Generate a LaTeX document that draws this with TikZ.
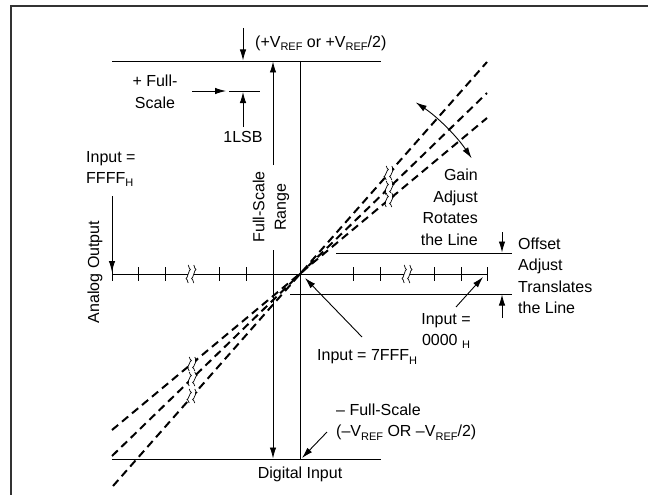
\documentclass[tikz,border=0pt]{standalone}
\usepackage{fontspec}
\setmainfont{Liberation Sans}
\usetikzlibrary{arrows.meta}
\newcommand{\subtx}[1]{\raisebox{-0.4ex}{\fontsize{11}{11}\selectfont #1}}
\begin{document}
\begin{tikzpicture}[x=1pt,y=-1pt,
  thinln/.style={line width=0.9pt},
  arr/.style={thinln,-{Latex[length=11pt,width=6.5pt]}},
  dbl/.style={thinln,{Latex[length=11pt,width=6.5pt]}-{Latex[length=11pt,width=6.5pt]}},
  dline/.style={line width=2pt,dash pattern=on 8pt off 5pt},
  lbl/.style={font=\fontsize{16}{21.5}\selectfont,inner sep=0pt},
  brkline/.pic={
    \fill[white] (-2.8,-7) rectangle (2.8,7);
    \draw[line width=0.7pt] (-2.8,-7) sin (-0.6,-3.5) cos (-2.8,0) sin (-5,3.5) cos (-2.8,7);
    \draw[line width=0.7pt] (2.8,-7) sin (5,-3.5) cos (2.8,0) sin (0.6,3.5) cos (2.8,7);
  },
  brkaxis/.pic={
    \fill[white] (-2.8,-9) rectangle (2.8,9);
    \draw[line width=0.7pt] (-2.8,-9) sin (-0.6,-4.5) cos (-2.8,0) sin (-5,4.5) cos (-2.8,9);
    \draw[line width=0.7pt] (2.8,-9) sin (5,-4.5) cos (2.8,0) sin (0.6,4.5) cos (2.8,9);
  }
]
\useasboundingbox (0,0) rectangle (648,495);
% frame
\coordinate (FB) at (11,496);
\coordinate (FC) at (11,6);
\coordinate (FR) at (649,6);
\draw[line width=2.5pt, draw=black!80] (FB) -- (FC) -- (FR);

% grid lines
\coordinate (O) at (300,274);
\coordinate (TL) at (112,61); \coordinate (TR) at (381,61);
\coordinate (BL) at (112,459); \coordinate (BR) at (381,459);
\coordinate (VT) at (300,61); \coordinate (VB) at (300,459);
\coordinate (HL) at (112,274); \coordinate (HR) at (487,274);
\draw[thinln] (TL) -- (TR);
\draw[thinln] (BL) -- (BR);
\draw[thinln] (VT) -- (VB);
\draw[thinln] (HL) -- (HR);
\foreach \x in {112,138,165,219,246,353,380,434,461,487}
  \draw[thinln] (\x,267) -- (\x,281);
\pic at (191,274) {brkaxis};
\pic at (407,274) {brkaxis};

% offset lines
\coordinate (OU1) at (336,253); \coordinate (OU2) at (512,253);
\coordinate (OL1) at (290,294); \coordinate (OL2) at (512,294);
\draw[thinln] (OU1) -- (OU2);
\draw[thinln] (OL1) -- (OL2);
\coordinate (OA1) at (502,232); \coordinate (OA2) at (502,252.5);
\coordinate (OB1) at (502,318); \coordinate (OB2) at (502,294.5);
\draw[arr] (OA1) -- (OA2);
\draw[arr] (OB1) -- (OB2);
\node[lbl, anchor=west, align=left] (offset) at (518,276) {Offset\\Adjust\\Translates\\the Line};

% full-scale range
\node[lbl, rotate=90, align=center] (fsr) at (271,207) {Full-Scale\\Range};
\coordinate (FS1) at (273,165); \coordinate (FSt) at (273,61.5);
\coordinate (FS2) at (273,250); \coordinate (FSb) at (273,458.5);
\draw[arr] (FS1) -- (FSt);
\draw[arr] (FS2) -- (FSb);

% top label
\coordinate (VA1) at (243,28); \coordinate (VA2) at (243,60.5);
\draw[arr] (VA1) -- (VA2);
\node[lbl, anchor=west] (vref) at (255,43) {(+V\subtx{REF} or +V\subtx{REF}/2)};

% + full-scale, 1LSB
\node[lbl, align=center] (pfs) at (155,92) {+ Full-\\Scale};
\coordinate (PA1) at (192,91); \coordinate (PA2) at (226,91);
\draw[arr] (PA1) -- (PA2);
\coordinate (LS1) at (229,91); \coordinate (LS2) at (260,91);
\draw[thinln] (LS1) -- (LS2);
\node[lbl] (lsb) at (243,137) {1LSB};
\coordinate (LA1) at (243,127); \coordinate (LA2) at (243,92);
\draw[arr] (LA1) -- (LA2);

% input FFFF
\node[lbl, anchor=west, align=left] (iff) at (86,169) {Input =\\FFFF\subtx{H}};
\coordinate (IA1) at (112,196); \coordinate (IA2) at (112,272);
\draw[arr] (IA1) -- (IA2);
\node[lbl, rotate=90] (ao) at (95,272) {Analog Output};

% dashed transfer lines
\coordinate (D1a) at (113,486); \coordinate (D1b) at (487,62);
\coordinate (D2a) at (112,456); \coordinate (D2b) at (487,93);
\coordinate (D3a) at (112,430); \coordinate (D3b) at (487,118);
\draw[dline] (D1a) -- (D1b);
\draw[dline] (D2a) -- (D2b);
\draw[dline] (D3a) -- (D3b);
\foreach \y in {173,188,200} \pic at (389,\y) {brkline};
\foreach \y in {364,379,396} \pic at (192,\y) {brkline};

% gain adjust
\coordinate (GA) at (415.8,102.4); \coordinate (GB) at (471.6,158.2);
\draw[dbl] (GA) .. controls (437.85,117.27) and (456.73,136.15) .. (GB);
\node[lbl, anchor=east, align=right] (gain) at (478,207.5) {Gain\\Adjust\\Rotates\\the Line};

% input 7FFF
\node[lbl, anchor=west] (i7) at (317,357) {Input = 7FFF\subtx{H}};
\coordinate (SA1) at (362,337); \coordinate (SA2) at (305,278);
\draw[arr] (SA1) -- (SA2);

% input 0000
\node[lbl, align=center] (i0) at (446,331) {Input =\\0000 \subtx{H}};
\coordinate (ZA1) at (456,307); \coordinate (ZA2) at (483,277);
\draw[arr] (ZA1) -- (ZA2);

% - full scale
\node[lbl, anchor=west, align=left] (mfs) at (336,422) {– Full-Scale\\(–V\subtx{REF} OR –V\subtx{REF}/2)};
\coordinate (MA1) at (327,432); \coordinate (MA2) at (302,458);
\draw[arr] (MA1) -- (MA2);

\node[lbl] (di) at (300,474) {Digital Input};
\end{tikzpicture}
\end{document}
